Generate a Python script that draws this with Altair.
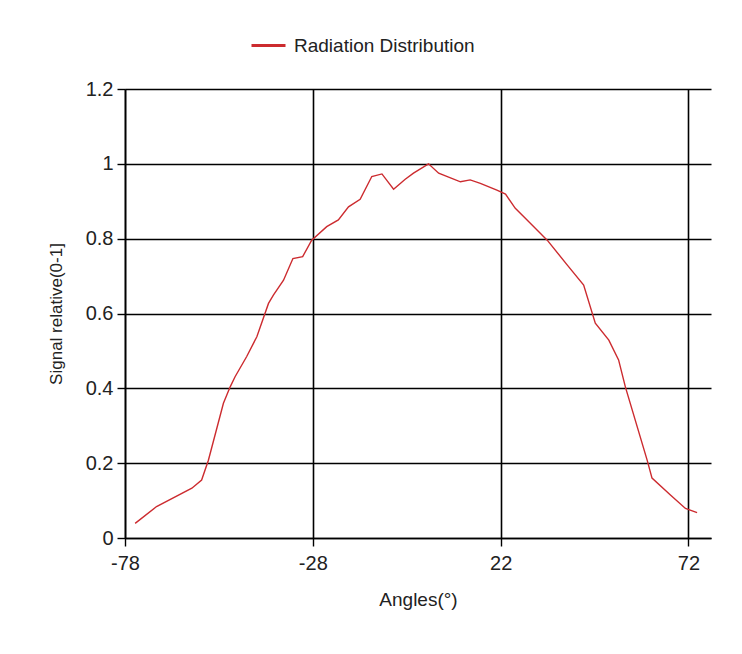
import altair as alt
import pandas as pd

angles = [-75.3, -69.6, -60.2, -57.6, -55.8, -51.8, -50.0, -48.7, -45.6, -42.9,
          -39.8, -38.5, -35.8, -33.3, -30.7, -28.3, -24.3, -21.2, -18.5, -15.4,
          -12.3, -9.6, -6.5, -3.4, -1.2, 2.8, 5.5, 11.3, 13.9, 16.6,
          21.0, 23.3, 25.9, 29.5, 34.4, 39.7, 44.1, 47.2, 50.8, 53.4,
          55.2, 61.0, 62.3, 67.2, 71.2, 74.3]
signal = [0.039, 0.084, 0.133, 0.155, 0.208, 0.360, 0.404, 0.431, 0.485, 0.538,
          0.627, 0.649, 0.689, 0.747, 0.752, 0.796, 0.832, 0.850, 0.885, 0.905,
          0.966, 0.973, 0.932, 0.959, 0.975, 1.000, 0.975, 0.952, 0.957, 0.948,
          0.930, 0.919, 0.881, 0.845, 0.796, 0.730, 0.676, 0.574, 0.529, 0.476,
          0.404, 0.208, 0.160, 0.115, 0.079, 0.068]
series_name = "Radiation Distribution"
x_ticks = [-78, -28, 22, 72]
y_ticks = [0, 0.2, 0.4, 0.6, 0.8, 1.0, 1.2]

df = pd.DataFrame({"angle": angles, "signal": signal, "series": series_name})

FONT = "Liberation Sans, Arial, sans-serif"

chart = alt.Chart(df).mark_line(strokeWidth=1.4).encode(
    x=alt.X("angle:Q",
            scale=alt.Scale(domain=[-78, 78], nice=False, zero=False),
            axis=alt.Axis(values=x_ticks, title="Angles(°)", grid=True,
                          labelExpr="'' + datum.value",
                          labelFontSize=20, titleFontSize=19, titleFontWeight="normal",
                          labelPadding=7, titlePadding=17, tickSize=8,
                          labelFlush=False)),
    y=alt.Y("signal:Q",
            scale=alt.Scale(domain=[0, 1.2], nice=False),
            axis=alt.Axis(values=y_ticks, format="~g", title="Signal relative(0-1]",
                          grid=True, labelFontSize=20, titleFontSize=17,
                          titleFontWeight="normal", labelPadding=4, titlePadding=20,
                          tickSize=8)),
    color=alt.Color("series:N",
                    scale=alt.Scale(range=["#cc2b2f"]),
                    legend=alt.Legend(title=None, orient="none", legendX=125, legendY=-62,
                                      symbolType="stroke", symbolSize=1156,
                                      symbolStrokeWidth=3, labelFontSize=19,
                                      labelFont=FONT, labelColor="#222222",
                                      labelLimit=0, symbolOffset=0, labelOffset=7)),
).properties(
    width=586,
    height=449,
    autosize=alt.AutoSizeParams(type="none"),
    padding={"left": 117, "top": 81, "right": 23, "bottom": 100},
    background="white",
).configure_axis(
    labelFont=FONT,
    titleFont=FONT,
    labelColor="#222222",
    titleColor="#222222",
    gridColor="#000000",
    gridWidth=1.6,
    gridOpacity=1,
    domainColor="#000000",
    domainWidth=1.6,
    tickColor="#000000",
    tickWidth=1.4,
).configure_view(stroke=None)

chart.save("out.html", embed_options={"renderer": "svg", "actions": False})
